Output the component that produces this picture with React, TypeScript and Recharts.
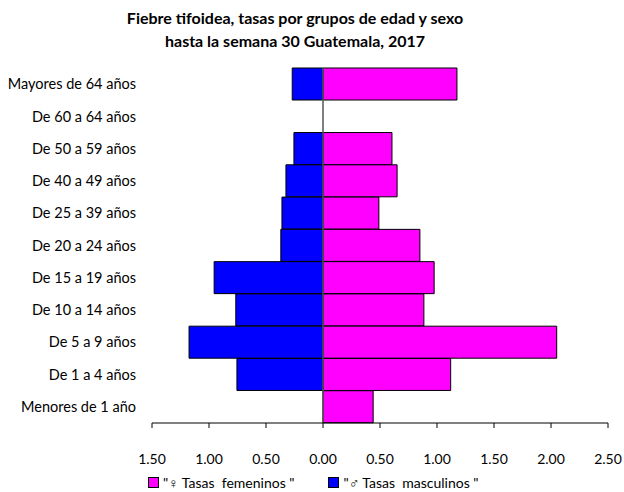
import React from "react";
import { BarChart, Bar, XAxis, YAxis, ReferenceLine } from "recharts";

const categories = [
  "Mayores de 64 años",
  "De 60 a 64 años",
  "De 50 a 59 años",
  "De 40 a 49 años",
  "De 25 a 39 años",
  "De 20 a 24 años",
  "De 15 a 19 años",
  "De 10 a 14 años",
  "De 5 a 9 años",
  "De 1 a 4 años",
  "Menores de 1 año",
];
const femeninos = [1.175, 0, 0.605, 0.65, 0.49, 0.85, 0.975, 0.885, 2.05, 1.12, 0.44];
const masculinos = [-0.27, 0, -0.255, -0.325, -0.36, -0.37, -0.955, -0.765, -1.175, -0.755, 0];
const xTicks = [-1.5, -1, -0.5, 0, 0.5, 1, 1.5, 2, 2.5];
const title1 = "Fiebre tifoidea, tasas por grupos de edad y sexo";
const title2 = "hasta la semana 30 Guatemala, 2017";
const legendFem = "\"\u2640 Tasas  femeninos \"";
const legendMasc = "\"\u2642 Tasas  masculinos \"";

const data = categories.map((name, i) => ({ name, fem: femeninos[i], masc: masculinos[i] }));

const FONT = "Lato, 'Open Sans', sans-serif";

export default function App() {
  return (
    <div style={{ position: "absolute", left: 0, top: 0, width: 624, height: 492, background: "#fff", fontFamily: FONT }}>
      <div style={{ position: "absolute", left: 0, width: 590, top: 6, textAlign: "center", fontWeight: 700, fontSize: 16, lineHeight: "23px", color: "#000" }}>
        <div>{title1}</div>
        <div>{title2}</div>
      </div>
      <BarChart
        width={624}
        height={492}
        data={data}
        layout="vertical"
        stackOffset="sign"
        barCategoryGap={0}
        margin={{ top: 68, right: 16, bottom: 24, left: 0 }}
      >
        <XAxis
          type="number"
          domain={[-1.5, 2.5]}
          ticks={xTicks}
          allowDataOverflow
          tickFormatter={(v: number) => Math.abs(v).toFixed(2)}
          stroke="#000"
          tickSize={5}
          tickMargin={26}
          height={45}
          tick={{ fill: "#000", fontSize: 14, fontFamily: FONT }}
        />
        <YAxis
          type="category"
          dataKey="name"
          width={152}
          axisLine={false}
          tickLine={false}
          tickSize={0}
          tickMargin={16}
          interval={0}
          tick={{ fill: "#000", fontSize: 14.5, fontFamily: FONT }}
        />
        <Bar dataKey="fem" stackId="a" fill="#FF00FF" stroke="#000" strokeWidth={1} isAnimationActive={false} />
        <Bar dataKey="masc" stackId="a" fill="#0000FF" stroke="#000" strokeWidth={1} isAnimationActive={false} />
        <ReferenceLine x={0} stroke="#555" strokeWidth={1.5} />
      </BarChart>
      <div style={{ position: "absolute", top: 474, left: 148, display: "flex", alignItems: "center", fontSize: 14, color: "#000", whiteSpace: "pre" }}>
        <span style={{ display: "inline-block", width: 9, height: 9, background: "#FF00FF", border: "1px solid #000", marginRight: 4 }} />
        <span>{legendFem}</span>
        <span style={{ display: "inline-block", width: 9, height: 9, background: "#0000FF", border: "1px solid #000", marginLeft: 34, marginRight: 4 }} />
        <span>{legendMasc}</span>
      </div>
    </div>
  );
}
